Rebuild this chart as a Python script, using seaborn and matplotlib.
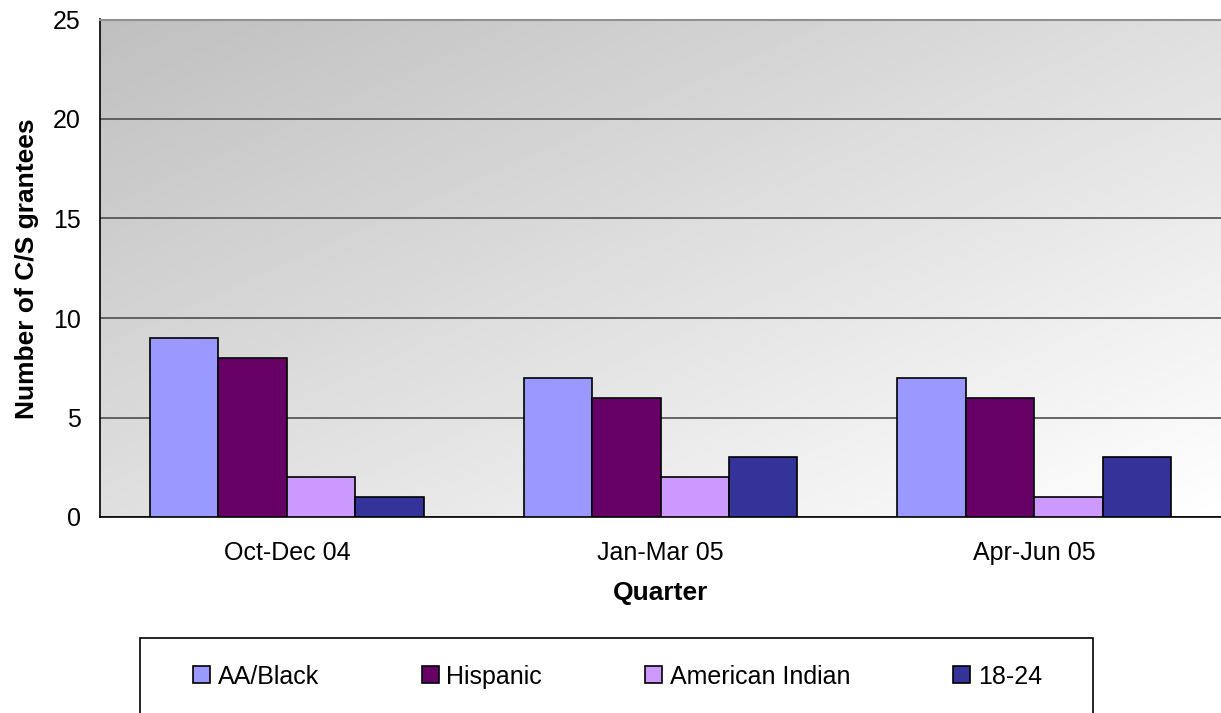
import numpy as np
import pandas as pd
import matplotlib
matplotlib.use("Agg")
import matplotlib.pyplot as plt
from matplotlib.patches import Rectangle
import seaborn as sns

quarters = ["Oct-Dec 04", "Jan-Mar 05", "Apr-Jun 05"]
groups = ["AA/Black", "Hispanic", "American Indian", "18-24"]
aa_black = [9, 7, 7]
hispanic = [8, 6, 6]
american_indian = [2, 2, 1]
age_18_24 = [1, 3, 3]
colors = ["#9999FF", "#660066", "#CC99FF", "#333399"]

df = pd.DataFrame({
    "Quarter": quarters * 4,
    "Group": [g for g in groups for _ in quarters],
    "Count": aa_black + hispanic + american_indian + age_18_24,
})

sns.set_style("white")
plt.rcParams["font.family"] = ["Liberation Sans", "DejaVu Sans"]
plt.rcParams["text.color"] = "black"
plt.rcParams["axes.labelcolor"] = "black"
plt.rcParams["xtick.color"] = "black"
plt.rcParams["ytick.color"] = "black"

fig = plt.figure(figsize=(12.21, 7.13), dpi=100)
ax = fig.add_axes([100 / 1221, 1 - 517 / 713, 1121 / 1221, 497.5 / 713])

# diagonal grey gradient background, dark top-left -> white bottom-right
u = np.linspace(0, 1, 300)
v = np.linspace(0, 1, 200)
U, V = np.meshgrid(u, v)
grad = 0.75 + 0.25 * (U + V) / 2
ax.imshow(grad, cmap="gray", vmin=0, vmax=1, extent=[0, 1, 0, 1], origin="upper",
          transform=ax.transAxes, aspect="auto", zorder=0, interpolation="bilinear")

sns.barplot(data=df, x="Quarter", y="Count", hue="Group", palette=colors,
            saturation=1, width=0.733, edgecolor="black", linewidth=1.2, ax=ax, zorder=3)

ax.set_xlim(-0.5, 2.5)
ax.set_ylim(0, 25)
ax.set_yticks([0, 5, 10, 15, 20, 25])
ax.yaxis.grid(True, color="#4d4d4d", linewidth=1.2, zorder=1)
ax.set_axisbelow(True)
ax.spines["right"].set_visible(False)
ax.spines["top"].set_color("#909090")
ax.spines["top"].set_linewidth(1.5)
ax.spines["left"].set_color("black")
ax.spines["bottom"].set_color("black")
ax.spines["left"].set_linewidth(1.2)
ax.spines["bottom"].set_linewidth(1.2)

ax.set_xticks([-0.5, 0.5, 1.5, 2.5], minor=True)
ax.tick_params(axis="x", which="major", length=0, pad=17, labelsize=18)
ax.tick_params(axis="x", which="minor", length=7, color="#808080", width=1.2)
ax.tick_params(axis="y", length=6, color="black", width=1, pad=8, labelsize=18)

ax.set_xlabel("Quarter", fontsize=19, fontweight="bold", labelpad=12)
ax.set_ylabel("Number of C/S grantees", fontsize=19, fontweight="bold", labelpad=10)

handles, labels = ax.get_legend_handles_labels()
ax.legend_.remove()
fig.legend(handles, labels, ncol=4, mode="expand", frameon=False,
           loc="center left", bbox_to_anchor=(193 / 1221, 1 - 677 / 713, 849 / 1221, 0.001),
           bbox_transform=fig.transFigure, borderaxespad=0, borderpad=0,
           handlelength=0.68, handleheight=0.68, handletextpad=0.3, fontsize=18)
fig.patches.append(Rectangle((140 / 1221, -0.02), 953 / 1221, 1 - 638 / 713 + 0.02,
                             transform=fig.transFigure, facecolor="none",
                             edgecolor="black", linewidth=1.2))

fig.savefig("out.png", dpi=100)
